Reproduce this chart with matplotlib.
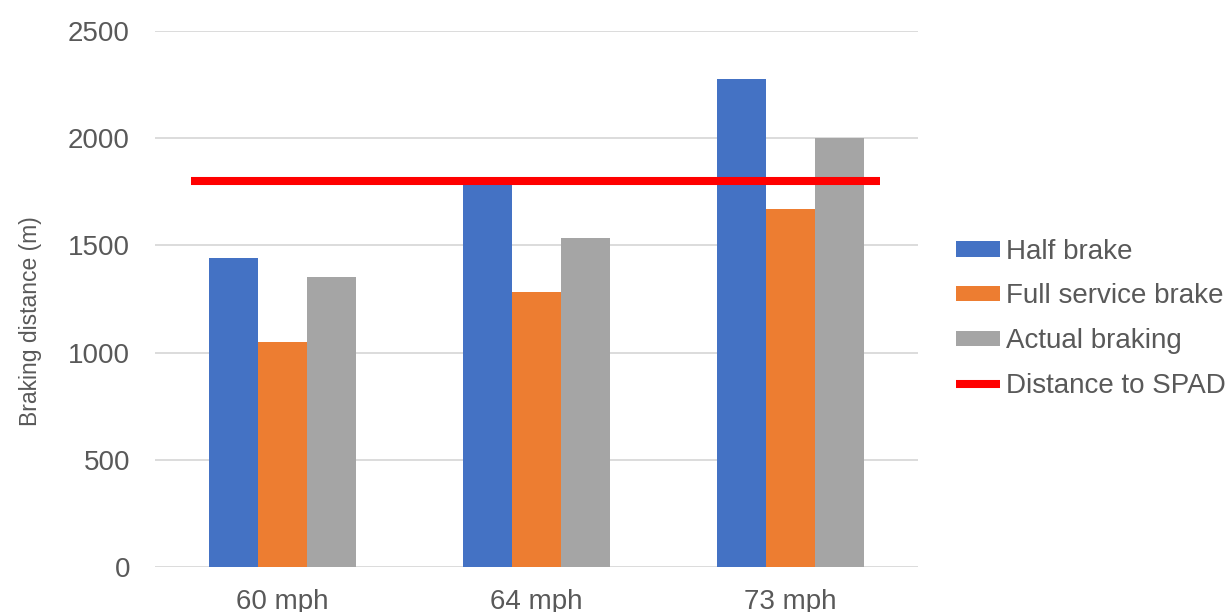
import numpy as np
import matplotlib.pyplot as plt

# === DATA ===
speeds = ["60 mph", "64 mph", "73 mph"]
half_brake = [1440, 1782, 2278]
full_service = [1050, 1284, 1670]
actual_braking = [1353, 1536, 2001]
spad_x = [-0.36, 2.35]
spad_y = [1800, 1800]

# === STYLE ===
plt.rcParams['font.family'] = ['Liberation Sans', 'DejaVu Sans']
TEXT = '#595959'
colors = ['#4472C4', '#ED7D31', '#A5A5A5']

fig = plt.figure(figsize=(12.32, 6.12), dpi=100)
ax = fig.add_axes([0.1258, 0.0735, 0.6192, 0.8758])

x = np.arange(len(speeds))
w = 0.193
series = [("Half brake", half_brake), ("Full service brake", full_service),
          ("Actual braking", actual_braking)]
handles = []
for i, (name, vals) in enumerate(series):
    h = ax.bar(x + (i - 1) * w, vals, width=w, color=colors[i], label=name, zorder=2)
    handles.append(h)

ln, = ax.plot(spad_x, spad_y, color='#FF0000', lw=5.8, solid_capstyle='butt',
              label="Distance to SPAD", zorder=3)
handles.append(ln)

ax.set_xlim(-0.5, len(speeds) - 0.5)
ax.set_ylim(0, 2500)
ax.set_yticks(np.arange(0, 2501, 500))
ax.set_xticks(x)
ax.set_xticklabels(speeds)
ax.yaxis.grid(True, color='#D9D9D9', lw=1.3, zorder=0)
ax.set_axisbelow(True)
for s in ax.spines.values():
    s.set_visible(False)
ax.tick_params(axis='both', length=0, labelsize=20, colors=TEXT)
ax.tick_params(axis='y', pad=18)
ax.tick_params(axis='x', pad=16)
ax.set_ylabel("Braking distance (m)", fontsize=16.5, color=TEXT)
ax.yaxis.set_label_coords(-0.148, 0.458)

leg = ax.legend(handles=handles, loc='center left', bbox_to_anchor=(1.05, 0.463),
                frameon=False, fontsize=20, handlelength=1.6, handleheight=0.5,
                handletextpad=0.2, labelspacing=0.68, borderaxespad=0, borderpad=0)
for t in leg.get_texts():
    t.set_color(TEXT)

fig.savefig("out.png", dpi=100)
